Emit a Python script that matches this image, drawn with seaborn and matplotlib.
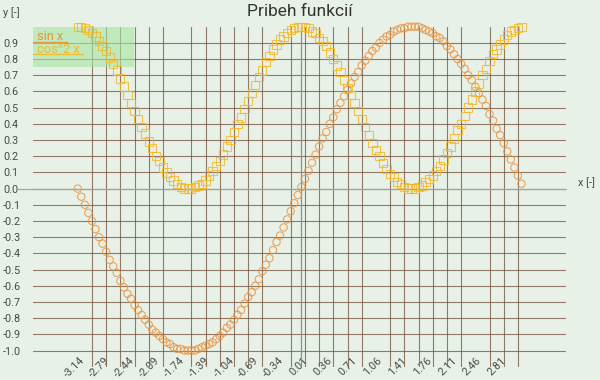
import pandas as pd
import numpy as np
import seaborn as sns
import matplotlib.pyplot as plt
import matplotlib.transforms as mtransforms
from matplotlib.lines import Line2D
from matplotlib.patches import Rectangle

# values (x step ~0.05)
x_values = [
    -3.14, -3.09, -3.04, -2.99, -2.94, -2.89, -2.84, -2.79, -2.74, -2.69,
    -2.64, -2.59, -2.54, -2.49, -2.44, -2.39, -2.34, -2.29, -2.24, -2.19,
    -2.14, -2.09, -2.04, -1.99, -1.94, -1.89, -1.84, -1.79, -1.74, -1.69,
    -1.64, -1.59, -1.54, -1.49, -1.44, -1.39, -1.34, -1.29, -1.24, -1.19,
    -1.14, -1.09, -1.04, -0.99, -0.94, -0.89, -0.84, -0.79, -0.74, -0.69,
    -0.64, -0.59, -0.54, -0.49, -0.44, -0.39, -0.34, -0.29, -0.24, -0.19,
    -0.14, -0.09, -0.04,
    0.01, 0.06, 0.11, 0.16, 0.21, 0.26, 0.31, 0.36, 0.41, 0.46,
    0.51, 0.56, 0.61, 0.66, 0.71, 0.76, 0.81, 0.86, 0.91, 0.96,
    1.01, 1.06, 1.11, 1.16, 1.21, 1.26, 1.31, 1.36, 1.41, 1.46,
    1.51, 1.56, 1.61, 1.66, 1.71, 1.76, 1.81, 1.86, 1.91, 1.96,
    2.01, 2.06, 2.11, 2.16, 2.21, 2.26, 2.31, 2.36, 2.41, 2.46,
    2.51, 2.56, 2.61, 2.66, 2.71, 2.76, 2.81, 2.86, 2.91, 2.96,
    3.01, 3.06, 3.11,
]

sin_values = [
    0.00, -0.05, -0.10, -0.15, -0.20, -0.25, -0.30, -0.34, -0.39, -0.44,
    -0.48, -0.52, -0.57, -0.61, -0.65, -0.68, -0.72, -0.75, -0.78, -0.81,
    -0.84, -0.87, -0.89, -0.91, -0.93, -0.95, -0.96, -0.98, -0.99, -0.99,
    -1.00, -1.00, -1.00, -1.00, -0.99, -0.98, -0.97, -0.96, -0.95, -0.93,
    -0.91, -0.89, -0.86, -0.84, -0.81, -0.78, -0.75, -0.71, -0.67, -0.64,
    -0.60, -0.56, -0.51, -0.47, -0.43, -0.38, -0.33, -0.29, -0.24, -0.19,
    -0.14, -0.09, -0.04,
    0.01, 0.06, 0.11, 0.16, 0.21, 0.26, 0.31, 0.35, 0.40, 0.44,
    0.49, 0.53, 0.57, 0.61, 0.65, 0.69, 0.72, 0.76, 0.79, 0.82,
    0.85, 0.87, 0.90, 0.92, 0.94, 0.95, 0.97, 0.98, 0.99, 0.99,
    1.00, 1.00, 1.00, 1.00, 0.99, 0.98, 0.97, 0.96, 0.94, 0.93,
    0.91, 0.88, 0.86, 0.83, 0.80, 0.77, 0.74, 0.70, 0.67, 0.63,
    0.59, 0.55, 0.51, 0.46, 0.42, 0.37, 0.33, 0.28, 0.23, 0.18,
    0.13, 0.08, 0.03,
]

cos2_values = [
    1.00, 1.00, 0.99, 0.98, 0.96, 0.94, 0.91, 0.88, 0.85, 0.81,
    0.77, 0.73, 0.68, 0.63, 0.58, 0.53, 0.48, 0.43, 0.38, 0.34,
    0.29, 0.25, 0.20, 0.17, 0.13, 0.10, 0.07, 0.05, 0.03, 0.01,
    0.00, 0.00, 0.00, 0.01, 0.02, 0.03, 0.05, 0.08, 0.11, 0.14,
    0.17, 0.21, 0.26, 0.30, 0.35, 0.40, 0.44, 0.49, 0.54, 0.59,
    0.64, 0.69, 0.73, 0.78, 0.82, 0.86, 0.89, 0.92, 0.94, 0.96,
    0.98, 0.99, 1.00,
    1.00, 1.00, 0.99, 0.97, 0.96, 0.93, 0.91, 0.88, 0.84, 0.80,
    0.76, 0.72, 0.67, 0.62, 0.58, 0.53, 0.48, 0.43, 0.38, 0.33,
    0.28, 0.24, 0.20, 0.16, 0.12, 0.09, 0.07, 0.04, 0.03, 0.01,
    0.00, 0.00, 0.00, 0.01, 0.02, 0.04, 0.06, 0.08, 0.11, 0.14,
    0.18, 0.22, 0.26, 0.31, 0.36, 0.40, 0.45, 0.50, 0.55, 0.60,
    0.65, 0.70, 0.74, 0.79, 0.83, 0.86, 0.89, 0.92, 0.95, 0.97,
    0.98, 0.99, 1.00,
]

x_tick_labels = ["-3.14", "-2.79", "-2.44", "-2.09", "-1.74", "-1.39",
                 "-1.04", "-0.69", "-0.34", "0.01", "0.36", "0.71",
                 "1.06", "1.41", "1.76", "2.11", "2.46", "2.81"]
y_tick_values = [-1.0, -0.9, -0.8, -0.7, -0.6, -0.5, -0.4, -0.3, -0.2, -0.1,
                 0.0, 0.1, 0.2, 0.3, 0.4, 0.5, 0.6, 0.7, 0.8, 0.9]
series_names = ["sin x", "cos^2 x"]

BG = "#e8f1e8"
GRID = "#7a5a44"
SIN_COLOR = "#e8913c"
COS_COLOR = "#f2b824"
TEXT = "#4a4a4a"

sns.set_style("white")
plt.rcParams["font.family"] = ["Roboto", "DejaVu Sans"]

W, H = 600, 380


def fx(px):
    return px / W


def fy(py):
    return 1 - py / H


df = pd.DataFrame({
    "x": x_values + x_values,
    "y": sin_values + cos2_values,
    "series": [series_names[0]] * len(sin_values) + [series_names[1]] * len(cos2_values),
})

fig = plt.figure(figsize=(6, 3.8), dpi=100, facecolor=BG)
ax = fig.add_axes([fx(33), fy(366.7), fx(565.7) - fx(33), fy(26.7) - fy(366.7)])
ax.set_facecolor(BG)
ax.set_xlim(-3.77, 3.733)
ax.set_ylim(-1.1, 1.0)

for s in ax.spines.values():
    s.set_visible(False)

# grid: horizontal at y ticks, vertical every 0.2 from -3.14
ax.set_yticks(y_tick_values)
ax.set_yticklabels([f"{v:.1f}" for v in y_tick_values], ha="left")
ax.set_xticks([float(t) for t in x_tick_labels])
ax.set_xticklabels(x_tick_labels, rotation=45, ha="center", va="top")
ax.set_xticks(np.arange(32) * 0.2 - 3.14, minor=True)
ax.grid(False)
ax.grid(True, which="major", axis="y", color=GRID, linewidth=0.8, alpha=0.8)
ax.grid(True, which="minor", axis="x", color=GRID, linewidth=0.8, alpha=0.8)
ax.set_axisbelow(True)
ax.tick_params(axis="both", which="both", length=0, labelsize=7.8, labelcolor=TEXT)
ax.tick_params(axis="y", pad=21.6)
ax.tick_params(axis="x", pad=-8.0)
offset = mtransforms.ScaledTranslation(-0.03, 0, fig.dpi_scale_trans)
for lbl in ax.get_xticklabels():
    lbl.set_transform(lbl.get_transform() + offset)

# axis lines through the origin
ax.axvline(0, color="#7f9886", linewidth=0.9, zorder=1.5)
ax.axhline(0, xmin=-0.03, xmax=1.0, color="#98aa9a", linewidth=0.9,
           clip_on=False, zorder=1.5)

# legend box
ax.add_patch(Rectangle((fx(33), fy(66.7)), fx(134) - fx(33), fy(26.7) - fy(66.7),
                       transform=fig.transFigure, facecolor="#a8e6a0",
                       alpha=0.6, edgecolor="none", zorder=2))

sns.scatterplot(data=df[df["series"] == "sin x"], x="x", y="y", ax=ax,
                marker="o", s=28, facecolors="none", edgecolor=SIN_COLOR,
                linewidth=0.8, alpha=0.8, legend=False, clip_on=False, zorder=3)
sns.scatterplot(data=df[df["series"] == "cos^2 x"], x="x", y="y", ax=ax,
                marker="s", s=36, facecolors="none", edgecolor=COS_COLOR,
                linewidth=0.8, alpha=0.8, legend=False, clip_on=False, zorder=3)
ax.set_xlabel("")
ax.set_ylabel("")

fig.text(fx(37), fy(36), series_names[0], color=SIN_COLOR, fontsize=9.2,
         ha="left", va="center")
fig.text(fx(37), fy(49.5), series_names[1], color=COS_COLOR, fontsize=9.2,
         ha="left", va="center")
fig.add_artist(Line2D([fx(33), fx(67)], [fy(41.7), fy(41.7)], color=SIN_COLOR,
                      linewidth=1.0, alpha=0.9))
fig.add_artist(Line2D([fx(33), fx(83)], [fy(54.3), fy(54.3)], color=COS_COLOR,
                      linewidth=1.0, alpha=0.9))

fig.text(0.5, fy(12), "Pribeh funkcií", ha="center", va="center",
         fontsize=12.5, color="#333333")
fig.text(fx(3), fy(13), "y [-]", ha="left", va="center", fontsize=7.8, color=TEXT)
fig.text(fx(578), fy(182.5), "x [-]", ha="left", va="center", fontsize=7.8, color=TEXT)

fig.savefig("out.png", dpi=100, facecolor=BG)
